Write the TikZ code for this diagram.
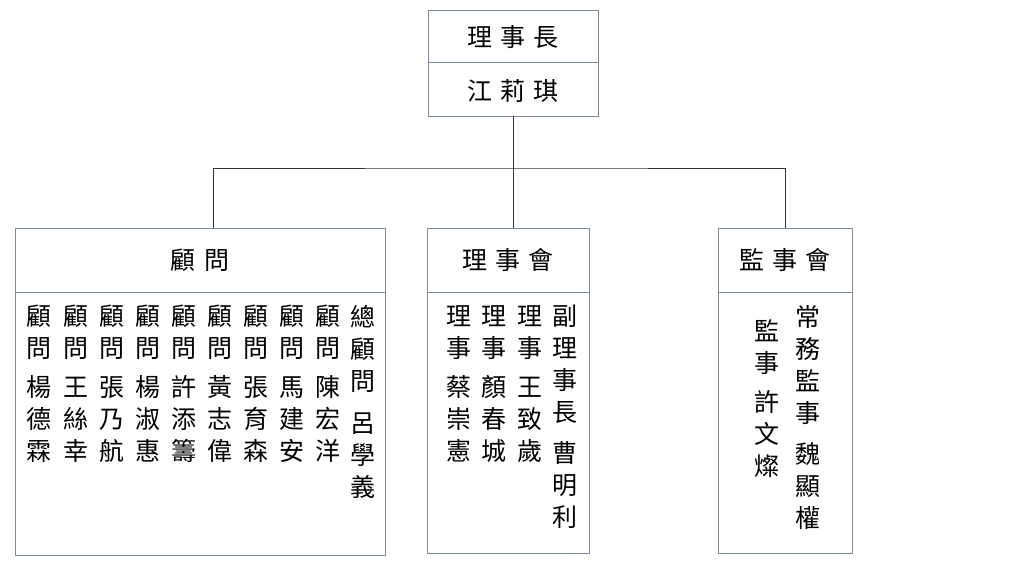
\documentclass[tikz,border=0pt]{standalone}
\usepackage{fontspec}
\newfontfamily\cjk{Noto Sans CJK TC}
\definecolor{frame}{RGB}{120,138,156}
\tikzset{
  box/.style={draw=frame, line width=0.9pt, inner sep=0pt},
  head/.style={font=\cjk\fontsize{25}{30}\selectfont},
  col/.style={anchor=north, align=center, inner sep=0pt, font=\cjk\fontsize{25}{32}\selectfont},
  link/.style={draw=black!80, line width=0.8pt}
}
\begin{document}
\begin{tikzpicture}[x=1pt, y=-1pt]
  \useasboundingbox (0,0) rectangle (1024,576);
  % chairman
  \node[box, minimum width=170pt, minimum height=52pt] (chair) at (513,36) {};
  \node[box, minimum width=170pt, minimum height=54pt] (name) at (513,89) {};
  \node[head] (chairt) at (513,37) {理\,\,事\,\,長};
  \node[head] (namet) at (513,91) {江\,\,莉\,\,琪};
  % three groups
  \node[box, minimum width=370pt, minimum height=64pt] (advhead) at (200,260) {};
  \node[box, minimum width=370pt, minimum height=263pt] (adv) at (200,423.5) {};
  \node[box, minimum width=162pt, minimum height=64pt] (counhead) at (508,260) {};
  \node[box, minimum width=162pt, minimum height=261pt] (coun) at (508,422.5) {};
  \node[box, minimum width=134pt, minimum height=64pt] (suphead) at (785,260) {};
  \node[box, minimum width=134pt, minimum height=261pt] (sup) at (785,422.5) {};
  \node[head] at (advhead) {顧\,\,問};
  \node[head] at (counhead) {理\,\,事\,\,會};
  \node[head] at (suphead) {監\,\,事\,\,會};
  % connectors
  \coordinate (bus) at (513,168);
  \coordinate (advtop) at (213,228);
  \coordinate (countop) at (513,228);
  \draw[link] (name.south) -- (bus);
  \draw[link] (advtop) |- (bus) -| (suphead.north);
  \draw[link] (bus) -- (countop);
  % advisers
  \node[col] (a1) at (39,305) {顧\\問\\[7pt]楊\\德\\霖};
  \node[col] (a2) at (76,305) {顧\\問\\[7pt]王\\絲\\幸};
  \node[col] (a3) at (112,305) {顧\\問\\[7pt]張\\乃\\航};
  \node[col] (a4) at (148,305) {顧\\問\\[7pt]楊\\淑\\惠};
  \node[col] (a5) at (184,305) {顧\\問\\[7pt]許\\添\\籌};
  \node[col] (a6) at (220,305) {顧\\問\\[7pt]黃\\志\\偉};
  \node[col] (a7) at (256,305) {顧\\問\\[7pt]張\\育\\森};
  \node[col] (a8) at (292,305) {顧\\問\\[7pt]馬\\建\\安};
  \node[col] (a9) at (328,305) {顧\\問\\[7pt]陳\\宏\\洋};
  \node[col] (a10) at (363,305) {總\\顧\\問\\[10pt]呂\\學\\義};
  % council
  \node[col] (c1) at (459,305) {理\\事\\[7pt]蔡\\崇\\憲};
  \node[col] (c2) at (494,305) {理\\事\\[7pt]顏\\春\\城};
  \node[col] (c3) at (530,305) {理\\事\\[7pt]王\\致\\歲};
  \node[col] (c4) at (565,305) {副\\理\\事\\長\\[9pt]曹\\明\\利};
  % supervisors
  \node[col] (s1) at (767,319) {監\\事\\[7pt]許\\文\\燦};
  \node[col] (s2) at (808,305) {常\\務\\監\\事\\[9pt]魏\\顯\\權};
\end{tikzpicture}
\end{document}
